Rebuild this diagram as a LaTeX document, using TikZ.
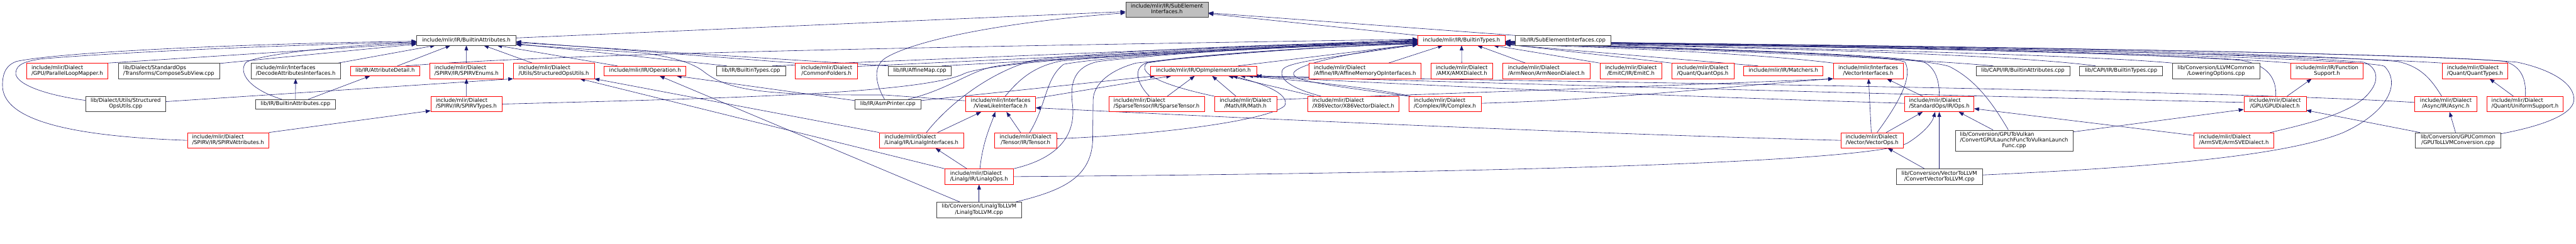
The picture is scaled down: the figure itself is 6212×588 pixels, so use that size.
\documentclass[tikz,border=0pt]{standalone}
\usepackage{fontspec}
\setmainfont{DejaVu Sans}
\usetikzlibrary{arrows.meta,calc}
\definecolor{edgec}{HTML}{191970}
\definecolor{nodered}{HTML}{FF0000}
\definecolor{nodegray}{HTML}{404040}
\definecolor{rootfill}{HTML}{BFBFBF}
\newcommand{\LA}[1]{\begin{tabular}{@{}c@{}}#1\end{tabular}}
\newcommand{\LB}[2]{\begin{tabular}{@{}l@{}}#1\\\multicolumn{1}{@{}c@{}}{#2}\end{tabular}}
\newcommand{\LC}[3]{\begin{tabular}{@{}l@{}}#1\\#2\\\multicolumn{1}{@{}c@{}}{#3}\end{tabular}}
\pgfdeclarelayer{paper}
\pgfdeclarelayer{bg}
\pgfsetlayers{paper,bg,main}
\tikzset{
 box/.style={rectangle, line width=0.9pt, fill=white, inner xsep=3pt, inner ysep=4.75pt, font=\fontsize{12.8}{13.5}\selectfont, text=black},
 rbox/.style={box, draw=nodered},
 kbox/.style={box, draw=nodegray},
 gbox/.style={box, draw=nodegray, fill=rootfill},
 edge/.style={draw=edgec, line width=0.9pt, -{Triangle[length=12pt,width=9pt]}},
}
\begin{document}
\begin{tikzpicture}[x=1pt,y=-1pt]
\begin{pgfonlayer}{paper}
\fill[white] (0,0) rectangle (6212,588);
\end{pgfonlayer}
\useasboundingbox (0,0) rectangle (6212,588);
% row 0/1
\node[gbox, minimum width=199] (root) at (2814,23) {\LB{include/mlir/IR/SubElement}{Interfaces.h}};
\node[kbox, minimum width=239] (BA) at (1124.5,97.5) {\LA{include/mlir/IR/BuiltinAttributes.h}};
\node[rbox, minimum width=211] (BT) at (3524.5,97.5) {\LA{include/mlir/IR/BuiltinTypes.h}};
\node[kbox, minimum width=230] (SEC) at (3769,97.5) {\LA{lib/IR/SubElementInterfaces.cpp}};
% row 2
\node[rbox, minimum width=196] (PLM) at (162,171) {\LB{include/mlir/Dialect}{/GPU/ParallelLoopMapper.h}};
\node[kbox, minimum width=244] (CSV) at (407,171) {\LB{lib/Dialect/StandardOps}{/Transforms/ComposeSubView.cpp}};
\node[kbox, minimum width=216] (DAI) at (713,171) {\LB{include/mlir/Interfaces}{/DecodeAttributesInterfaces.h}};
\node[rbox, minimum width=167] (AD) at (928.5,171) {\LA{lib/IR/AttributeDetail.h}};
\node[rbox, minimum width=178] (SPE) at (1125,171) {\LB{include/mlir/Dialect}{/SPIRV/IR/SPIRVEnums.h}};
\node[rbox, minimum width=195] (SOUH) at (1335.5,171) {\LB{include/mlir/Dialect}{/Utils/StructuredOpsUtils.h}};
\node[rbox, minimum width=197] (OPH) at (1555.5,171) {\LA{include/mlir/IR/Operation.h}};
\node[kbox, minimum width=166] (BTC) at (1811,171) {\LA{lib/IR/BuiltinTypes.cpp}};
\node[rbox, minimum width=150] (CF) at (1993,171) {\LB{include/mlir/Dialect}{/CommonFolders.h}};
\node[kbox, minimum width=152] (AMC) at (2218,171) {\LA{lib/IR/AffineMap.cpp}};
\node[rbox, minimum width=256] (OPI) at (2902,171) {\LA{include/mlir/IR/OpImplementation.h}};
\node[rbox, minimum width=271] (AMOI) at (3291.5,171) {\LB{include/mlir/Dialect}{/Affine/IR/AffineMemoryOpInterfaces.h}};
\node[rbox, minimum width=150] (AMX) at (3525,171) {\LB{include/mlir/Dialect}{/AMX/AMXDialect.h}};
\node[rbox, minimum width=210] (ARN) at (3729,171) {\LB{include/mlir/Dialect}{/ArmNeon/ArmNeonDialect.h}};
\node[rbox, minimum width=150] (EMC) at (3933,171) {\LB{include/mlir/Dialect}{/EmitC/IR/EmitC.h}};
\node[rbox, minimum width=150] (QOP) at (4106,171) {\LB{include/mlir/Dialect}{/Quant/QuantOps.h}};
\node[rbox, minimum width=191] (MAT) at (4300.5,171) {\LA{include/mlir/IR/Matchers.h}};
\node[rbox, minimum width=168] (VI) at (4505,171) {\LB{include/mlir/Interfaces}{/VectorInterfaces.h}};
\node[kbox, minimum width=226] (CAA) at (4878,171) {\LA{lib/CAPI/IR/BuiltinAttributes.cpp}};
\node[kbox, minimum width=200] (CAT) at (5115,171) {\LA{lib/CAPI/IR/BuiltinTypes.cpp}};
\node[kbox, minimum width=210] (LO) at (5344,171) {\LB{lib/Conversion/LLVMCommon}{/LoweringOptions.cpp}};
\node[rbox, minimum width=175] (FS) at (5611.5,171) {\LB{include/mlir/IR/Function}{Support.h}};
\node[rbox, minimum width=157] (QT) at (5968.5,171) {\LB{include/mlir/Dialect}{/Quant/QuantTypes.h}};
% row 3
\node[kbox, minimum width=194] (SOUC) at (303,251) {\LB{lib/Dialect/Utils/Structured}{OpsUtils.cpp}};
\node[kbox, minimum width=193] (BAC) at (712.5,251.5) {\LA{lib/IR/BuiltinAttributes.cpp}};
\node[rbox, minimum width=171] (SPT) at (1124.5,251) {\LB{include/mlir/Dialect}{/SPIRV/IR/SPIRVTypes.h}};
\node[kbox, minimum width=158] (ASM) at (2141,251.5) {\LA{lib/IR/AsmPrinter.cpp}};
\node[rbox, minimum width=168] (VLI) at (2413,251) {\LB{include/mlir/Interfaces}{/ViewLikeInterface.h}};
\node[rbox, minimum width=230] (SPA) at (2789,251) {\LB{include/mlir/Dialect}{/SparseTensor/IR/SparseTensor.h}};
\node[rbox, minimum width=150] (MTH) at (3003.5,251) {\LB{include/mlir/Dialect}{/Math/IR/Math.h}};
\node[rbox, minimum width=221] (X86) at (3263.5,251) {\LB{include/mlir/Dialect}{/X86Vector/X86VectorDialect.h}};
\node[rbox, minimum width=175] (CPX) at (3484.5,251) {\LB{include/mlir/Dialect}{/Complex/IR/Complex.h}};
\node[rbox, minimum width=167] (STD) at (4676.5,251) {\LB{include/mlir/Dialect}{/StandardOps/IR/Ops.h}};
\node[rbox, minimum width=150] (GPUD) at (5486,251) {\LB{include/mlir/Dialect}{/GPU/GPUDialect.h}};
\node[rbox, minimum width=150] (ASY) at (5898,251) {\LB{include/mlir/Dialect}{/Async/IR/Async.h}};
\node[rbox, minimum width=184] (UNI) at (6089,251) {\LB{include/mlir/Dialect}{/Quant/UniformSupport.h}};
% row 4
\node[rbox, minimum width=196] (SPAT) at (550,338.5) {\LB{include/mlir/Dialect}{/SPIRV/IR/SPIRVAttributes.h}};
\node[rbox, minimum width=203] (LI) at (2222,338.5) {\LB{include/mlir/Dialect}{/Linalg/IR/LinalgInterfaces.h}};
\node[rbox, minimum width=150] (TEN) at (2473,338.5) {\LB{include/mlir/Dialect}{/Tensor/IR/Tensor.h}};
\node[rbox, minimum width=149] (VO) at (4514.5,338.5) {\LB{include/mlir/Dialect}{/Vector/VectorOps.h}};
\node[kbox, minimum width=284] (GV) at (4857,339) {\LC{lib/Conversion/GPUToVulkan}{/ConvertGPULaunchFuncToVulkanLaunch}{Func.cpp}};
\node[rbox, minimum width=192] (SVE) at (5387,338.5) {\LB{include/mlir/Dialect}{/ArmSVE/ArmSVEDialect.h}};
\node[kbox, minimum width=207] (G2L) at (5927.5,338.5) {\LB{lib/Conversion/GPUCommon}{/GPUToLLVMConversion.cpp}};
% row 5/6
\node[rbox, minimum width=164] (LOPS) at (2361,426) {\LB{include/mlir/Dialect}{/Linalg/IR/LinalgOps.h}};
\node[kbox, minimum width=207] (CV2L) at (4676.5,426) {\LB{lib/Conversion/VectorToLLVM}{/ConvertVectorToLLVM.cpp}};
\node[kbox, minimum width=206] (L2L) at (2361,506) {\LB{lib/Conversion/LinalgToLLVM}{/LinalgToLLVM.cpp}};

\begin{pgfonlayer}{bg}
% root
\draw[edge] ($(BA.east)+(0,-6)$) -- ($(root.west)+(0,5)$);
\draw[edge] ($(ASM.north)+(-8,0)$) .. controls (2110,200) and (2105,160) .. (2135,140) .. controls (2200,100) and (2400,55) .. ($(root.west)+(0,8)$);
\draw[edge] (BT.north west) -- ($(root.east)+(0,10)$);
\draw[edge] (SEC.north west) -- ($(root.east)+(0,8)$);
% BuiltinAttributes.h
\draw[edge] (SPAT.west) .. controls (150,328) and (5,285) .. (6,205) .. controls (6,170) and (20,155) .. (40,148) .. controls (150,125) and (600,105) .. ($(BA.west)+(0,2)$);
\draw[edge] ($(SOUC.west)+(0,-9)$) .. controls (100,228) and (35,200) .. (38,175) .. controls (40,155) and (60,148) .. (100,142) .. controls (300,125) and (700,108) .. ($(BA.west)+(0,4)$);
\draw[edge] (PLM.north east) -- ($(BA.west)+(0,7)$);
\draw[edge] ($(CSV.north east)+(0,1)$) -- ($(BA.west)+(0,9)$);
\draw[edge] ($(BAC.north)+(-33,0)$) .. controls (600,215) and (575,175) .. (592,152) .. controls (605,135) and (800,110) .. ($(BA.west)+(0,5)$);
\draw[edge] ($(DAI.north east)+(-6,0)$) -- ($(BA.south west)+(45,0)$);
\draw[edge] ($(AD.north)+(30,0)$) -- ($(BA.south west)+(82,0)$);
\draw[edge] (SPE) -- (BA);
\draw[edge] ($(SOUH.north)+(-52,0)$) -- ($(BA.south)+(42,0)$);
\draw[edge] ($(OPH.north west)+(32,0)$) -- ($(BA.south)+(74,0)$);
\draw[edge] (CF.north west) -- ($(BA.east)+(0,3)$);
\draw[edge] (AMC.north west) -- ($(BA.east)+(0,5)$);
\draw[edge] ($(BTC.north west)+(25,0)$) -- ($(BA.east)+(0,8)$);
\draw[edge] ($(VLI.west)+(0,-8)$) -- (2133,229) .. controls (1850,230) and (1760,220) .. (1700,175) .. controls (1670,150) and (1620,138) .. (1554,128) -- ($(BA.east)+(0,10)$);
% BuiltinTypes.h, left
\draw[edge] ($(AD.north)+(50,0)$) .. controls (1400,125) and (2600,108) .. ($(BT.west)+(0,-3)$);
\draw[edge] ($(BTC.north east)+(-32,0)$) -- ($(BT.west)+(0,-2)$);
\draw[edge] ($(CF.east)+(0,-11)$) -- ($(BT.west)+(0,0)$);
\draw[edge] ($(AMC.north east)+(-23,0)$) -- ($(BT.west)+(0,-1)$);
\draw[edge] (SPT.east) .. controls (1700,238) and (2200,228) .. (2320,180) .. controls (2360,155) and (2700,125) .. ($(BT.west)+(0,1)$);
\draw[edge] ($(ASM.north)+(49,0)$) .. controls (2290,215) and (2340,170) .. (2400,160) .. controls (2600,130) and (3000,110) .. ($(BT.west)+(0,2)$);
\draw[edge] ($(LI.north)+(12,0)$) .. controls (2280,260) and (2380,175) .. (2494,145) .. controls (2700,120) and (3100,105) .. ($(BT.west)+(0,3)$);
\draw[edge] ($(VLI.north)+(11,0)$) .. controls (2455,195) and (2490,160) .. (2560,147) .. controls (2800,125) and (3200,108) .. ($(BT.west)+(0,4)$);
\draw[edge] ($(TEN.north)+(10,0)$) .. controls (2525,250) and (2520,190) .. (2565,155) .. controls (2700,130) and (3200,110) .. ($(BT.west)+(0,5)$);
\draw[edge] (LOPS.north east) .. controls (2560,380) and (2595,320) .. (2586,250) .. controls (2580,200) and (2590,160) .. (2650,148) .. controls (2900,120) and (3200,110) .. ($(BT.west)+(0,6)$);
\draw[edge] ($(L2L.north east)+(-15,0)$) .. controls (2560,460) and (2630,430) .. (2635,340) -- (2636,240) .. controls (2638,200) and (2680,168) .. (2740,152) .. controls (3000,125) and (3250,110) .. ($(BT.west)+(0,7)$);
\draw[edge] ($(SPA.north west)+(98,0)$) .. controls (2740,200) and (2730,160) .. (2770,150) .. controls (2900,130) and (3200,112) .. ($(BT.west)+(0,8)$);
\draw[edge] (MTH.north west) .. controls (2800,205) and (2740,175) .. (2766,152) .. controls (2900,130) and (3200,112) .. ($(BT.west)+(0,8)$);
\draw[edge] ($(OPI.north east)+(-45,0)$) -- ($(BT.west)+(0,9)$);
\draw[edge] ($(X86.north west)+(33,0)$) .. controls (3110,212) and (3085,190) .. (3092,170) .. controls (3098,150) and (3200,140) .. ($(BT.west)+(0,10)$);
\draw[edge] (CPX.north west) .. controls (3200,205) and (3110,195) .. (3120,175) .. controls (3135,150) and (3300,120) .. ($(BT.west)+(0,10)$);
% BuiltinTypes.h, bottom
\draw[edge] ($(AMOI.north east)+(-79,0)$) -- ($(BT.south west)+(61,0)$);
\draw[edge] (AMX) -- (BT);
\draw[edge] ($(ARN.north west)+(55,0)$) -- ($(BT.south west)+(144,0)$);
\draw[edge] (EMC.north west) -- ($(BT.south east)+(-29,0)$);
\draw[edge] (QOP.north west) -- ($(BT.east)+(0,9)$);
% BuiltinTypes.h, right
\draw[edge] ($(MAT.north west)+(35,0)$) -- ($(BT.east)+(0,10)$);
\draw[edge] (VI.north west) .. controls (4200,125) and (3800,112) .. ($(BT.east)+(0,9)$);
\draw[edge] ($(VO.north)+(12,0)$) .. controls (4570,260) and (4615,190) .. (4594,150) .. controls (4560,130) and (4000,116) .. ($(BT.east)+(0,8)$);
\draw[edge] (STD.north) .. controls (4677,200) and (4670,165) .. (4640,150) .. controls (4580,130) and (4000,114) .. ($(BT.east)+(0,7)$);
\draw[edge] ($(CAA.north west)+(42,0)$) .. controls (4600,140) and (4000,115) .. ($(BT.east)+(0,8)$);
\draw[edge] ($(CAT.north west)+(39,0)$) .. controls (4800,125) and (4000,110) .. ($(BT.east)+(0,7)$);
\draw[edge] ($(GV.north)+(-14,0)$) .. controls (4800,240) and (4760,190) .. (4700,160) .. controls (4600,130) and (4000,115) .. ($(BT.east)+(0,6)$);
\draw[edge] (LO.north west) .. controls (5000,130) and (4200,112) .. ($(BT.east)+(0,6)$);
\draw[edge] ($(GPUD.north)+(2,0)$) .. controls (5490,190) and (5470,155) .. (5400,145) .. controls (5000,120) and (4200,110) .. ($(BT.east)+(0,5)$);
\draw[edge] (FS.north west) .. controls (5200,125) and (4300,110) .. ($(BT.east)+(0,5)$);
\draw[edge] (QT.north west) .. controls (5500,128) and (4400,110) .. ($(BT.east)+(0,4)$);
\draw[edge] ($(ASY.north)+(-10,0)$) .. controls (5865,195) and (5840,160) .. (5780,148) .. controls (5400,120) and (4400,108) .. ($(BT.east)+(0,4)$);
\draw[edge] ($(UNI.north)+(1,0)$) .. controls (6092,190) and (6080,160) .. (6040,148) .. controls (5800,125) and (4400,108) .. ($(BT.east)+(0,3)$);
\draw[edge] ($(G2L.east)+(0,-16)$) .. controls (6150,300) and (6210,270) .. (6207,237) .. controls (6204,195) and (6140,165) .. (6070,150) .. controls (5800,125) and (4400,107) .. ($(BT.east)+(0,3)$);
\draw[edge] ($(SVE.north east)+(-9,0)$) .. controls (5580,295) and (5680,270) .. (5716,220) .. controls (5740,190) and (5730,160) .. (5700,150) .. controls (5400,125) and (4400,108) .. ($(BT.east)+(0,2)$);
\draw[edge] ($(CV2L.east)+(0,-4)$) .. controls (5150,405) and (5500,380) .. (5650,320) .. controls (5760,270) and (5790,200) .. (5750,160) .. controls (5720,140) and (4500,110) .. ($(BT.east)+(0,2)$);
% OpImplementation.h
\draw[edge] ($(ASM.east)+(0,-9)$) -- ($(OPI.south west)+(12,0)$);
\draw[edge] ($(VLI.east)+(0,-14)$) -- ($(OPI.south west)+(51,0)$);
\draw[edge] ($(SPA.north)+(26,0)$) -- ($(OPI.south)+(-21,0)$);
\draw[edge] ($(MTH.north)+(-23,0)$) -- ($(OPI.south)+(21,0)$);
\draw[edge] ($(TEN.east)+(0,-4)$) .. controls (2800,325) and (3060,290) .. (3098,255) .. controls (3110,230) and (3060,205) .. ($(OPI.south)+(70,0)$);
\draw[edge] ($(X86.north west)+(17,0)$) -- ($(OPI.south)+(60,0)$);
\draw[edge] ($(CPX.north west)+(5,0)$) .. controls (3300,210) and (3100,190) .. ($(OPI.south east)+(-40,0)$);
\draw[edge] ($(STD.west)+(0,-2)$) .. controls (4000,232) and (3300,200) .. ($(OPI.south east)+(-21,0)$);
\draw[edge] ($(GPUD.west)+(0,-4)$) .. controls (4500,226) and (3400,195) .. ($(OPI.south east)+(-8,0)$);
\draw[edge] ($(ASY.west)+(0,-4)$) .. controls (5300,214) and (3400,192) .. (OPI.south east);
% VectorInterfaces.h
\draw[edge] ($(MTH.east)+(0,-11)$) .. controls (3600,222) and (4200,200) .. (VI.south west);
\draw[edge] ($(CPX.east)+(0,-2)$) .. controls (3900,240) and (4200,205) .. (VI.south west);
\draw[edge] ($(VO.north)+(-2,0)$) -- ($(VI.south)+(1,0)$);
\draw[edge] ($(STD.north)+(-40,0)$) -- ($(VI.south)+(45,0)$);
% others
\draw[edge] (SPT) -- (SPE);
\draw[edge] (SPAT.north east) -- ($(SPT.west)+(0,16)$);
\draw[edge] ($(SOUC.east)+(0,-6)$) -- (SOUH.south west);
\draw[edge] (BAC) -- (DAI);
\draw[edge] ($(BAC.north east)+(-66,0)$) -- ($(AD.south west)+(48,0)$);
\draw[edge] (LI.north west) -- (SOUH.south east);
\draw[edge] (LOPS.north west) -- ($(SOUH.south east)+(-35,0)$);
\draw[edge] ($(L2L.north west)+(57,0)$) -- ($(OPH.south)+(35,0)$);
\draw[edge] ($(ASM.west)+(0,-9)$) -- ($(OPH.south)+(76,0)$);
\draw[edge] ($(LI.north)+(39,0)$) -- ($(VLI.south)+(-47,0)$);
\draw[edge] ($(LOPS.north)+(2,0)$) .. controls (2370,340) and (2390,300) .. ($(VLI.south)+(-13,0)$);
\draw[edge] ($(TEN.north)+(-12,0)$) -- ($(VLI.south)+(14,0)$);
\draw[edge] ($(LOPS.north)+(-29,0)$) -- ($(LI.south)+(34,0)$);
\draw[edge] (L2L) -- (LOPS);
\draw[edge] (VO.west) .. controls (3800,322) and (3000,285) .. ($(VLI.east)+(0,9)$);
\draw[edge] (LOPS.east) .. controls (3500,418) and (4500,395) .. (4600,345) .. controls (4640,320) and (4660,295) .. ($(STD.south)+(-10,0)$);
\draw[edge] ($(VO.north)+(34,0)$) -- ($(STD.south)+(-40,0)$);
\draw[edge] (CV2L) -- (STD);
\draw[edge] ($(CV2L.north)+(-35,0)$) -- ($(VO.south)+(38,0)$);
\draw[edge] ($(GV.north)+(-51,0)$) -- ($(STD.south east)+(-37,0)$);
\draw[edge] ($(SVE.north west)+(0,7)$) -- ($(STD.east)+(0,11)$);
\draw[edge] ($(GV.east)+(0,-21)$) -- ($(GPUD.west)+(0,13)$);
\draw[edge] ($(GPUD.north)+(29,0)$) -- ($(FS.south)+(-37,0)$);
\draw[edge] ($(G2L.north west)+(12,0)$) -- ($(GPUD.east)+(0,15)$);
\draw[edge] ($(G2L.north)+(-6,0)$) -- ($(ASY.south)+(9,0)$);
\draw[edge] ($(UNI.north)+(-28,0)$) -- ($(QT.south)+(35,0)$);
\end{pgfonlayer}
\end{tikzpicture}
\end{document}
